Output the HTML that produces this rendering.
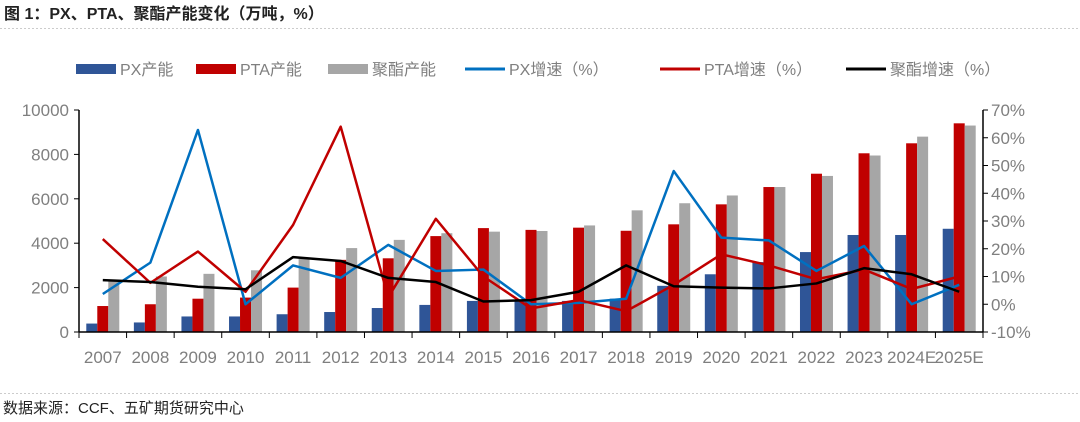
<!DOCTYPE html>
<html><head><meta charset="utf-8"><style>
html,body{margin:0;padding:0;background:#fff;}
svg{display:block;}
text{font-family:"Liberation Sans","Noto Sans CJK SC",sans-serif;}
</style></head><body>
<svg id="chart" width="1080" height="422" xmlns="http://www.w3.org/2000/svg">
<text x="4" y="19" font-size="16" font-weight="bold" fill="#222">图 1：PX、PTA、聚酯产能变化（万吨，%）</text>
<line x1="0" y1="28.5" x2="1080" y2="28.5" stroke="#ccc" stroke-dasharray="2,2"/>
<line x1="0" y1="393.5" x2="1080" y2="393.5" stroke="#ccc" stroke-dasharray="2,2"/>
<text x="3" y="413" font-size="15" fill="#222">数据来源：CCF、五矿期货研究中心</text>
<g id="legend">
<g><rect x="76" y="64" width="40" height="10" fill="#2F5597"/><text x="120" y="75" font-size="16" fill="#7f7f7f">PX产能</text></g>
<g><rect x="196" y="64" width="40" height="10" fill="#C00000"/><text x="240" y="75" font-size="16" fill="#7f7f7f">PTA产能</text></g>
<g><rect x="328" y="64" width="40" height="10" fill="#A6A6A6"/><text x="372" y="75" font-size="16" fill="#7f7f7f">聚酯产能</text></g>
<g><line x1="465" y1="69" x2="505" y2="69" stroke="#0070C0" stroke-width="3"/><text x="509" y="75" font-size="16" fill="#7f7f7f">PX增速（%）</text></g>
<g><line x1="660" y1="69" x2="700" y2="69" stroke="#C00000" stroke-width="3"/><text x="704" y="75" font-size="16" fill="#7f7f7f">PTA增速（%）</text></g>
<g><line x1="846" y1="69" x2="886" y2="69" stroke="#000" stroke-width="3"/><text x="890" y="75" font-size="16" fill="#7f7f7f">聚酯增速（%）</text></g>
</g>
<g id="plot"></g>
</svg>
<script>
const categories=["2007","2008","2009","2010","2011","2012","2013","2014","2015","2016","2017","2018","2019","2020","2021","2022","2023","2024E","2025E"];
const pxCapacity=[380,430,700,700,800,900,1080,1220,1400,1400,1400,1500,2080,2600,3150,3600,4370,4370,4650];
const ptaCapacity=[1170,1250,1500,1550,2000,3250,3320,4320,4680,4600,4700,4560,4850,5750,6530,7130,8050,8500,9400];
const polyCapacity=[2300,2500,2620,2780,3300,3780,4150,4450,4520,4550,4800,5480,5800,6150,6530,7030,7950,8800,9300];
const pxGrowth=[3.7,15,62.8,0,14,9.5,21.4,12,12.5,0,0.5,2,48,24,23,12,21,0,7];
const ptaGrowth=[23.5,7.7,19,4.5,28.6,64,2.5,30.8,10,-1.5,1.5,-2.5,7,18,14,9,12.5,5.5,10];
const polyGrowth=[8.7,8,6.3,5.4,17,15.6,9.5,8,1,1.5,4.5,14,6.5,6,5.7,7.5,13,10.8,4.5];
const leftTicks=[0,2000,4000,6000,8000,10000];
const rightTicks=[-10,0,10,20,30,40,50,60,70];

const NS="http://www.w3.org/2000/svg";
const g=document.getElementById('plot');
const X0=79,X1=983,YT=110,YB=332;
const bw=(X1-X0)/categories.length;
const yL=v=>YB-(v/10000)*(YB-YT);
const yR=v=>YB-((v+10)/80)*(YB-YT);
const xC=i=>X0+bw*(i+0.5);
function mk(tag,attrs){const e=document.createElementNS(NS,tag);for(const k in attrs)e.setAttribute(k,attrs[k]);g.appendChild(e);return e;}

leftTicks.forEach(v=>{
  const t=mk('text',{x:X0-10,y:yL(v)+6,'text-anchor':'end','font-size':'17',fill:'#7f7f7f'});t.textContent=v;
  
  
  const l=mk('line',{x1:X0-5,x2:X0,y1:yL(v),y2:yL(v),stroke:'#000'});
  
  
});
rightTicks.forEach(v=>{
  const t=mk('text',{x:X1+8,y:yR(v)+6,'font-size':'17',fill:'#7f7f7f'});t.textContent=v+'%';
  
  
  const l=mk('line',{x1:X1,x2:X1+5,y1:yR(v),y2:yR(v),stroke:'#000'});
  
  
});
const series=[[pxCapacity,'#2F5597','bar-px'],[ptaCapacity,'#C00000','bar-pta'],[polyCapacity,'#A6A6A6','bar-polyester']];
const barW=11;
categories.forEach((c,i)=>{
  series.forEach((s,k)=>{
    const x=xC(i)-16.5+k*barW;
    const r=mk('rect',{x:x,y:yL(s[0][i]),width:barW,height:YB-yL(s[0][i]),fill:s[1]});
    
    
  });
  const t=mk('text',{x:xC(i),y:YB+31,'text-anchor':'middle','font-size':'17',fill:'#7f7f7f'});t.textContent=c;
  
  
});
for(let i=0;i<=categories.length;i++){
  const l=mk('line',{x1:X0+bw*i,x2:X0+bw*i,y1:YB,y2:YB+6,stroke:'#000'});
  
  
}
const ax=mk('line',{x1:X0,x2:X1,y1:YB,y2:YB,stroke:'#000','stroke-width':'1.5'});


const la=mk('line',{x1:X0,x2:X0,y1:YT,y2:YB,stroke:'#000','stroke-width':'1.5'});


const ra=mk('line',{x1:X1,x2:X1,y1:YT,y2:YB,stroke:'#000','stroke-width':'1.5'});


[[pxGrowth,'#0070C0','line-px-growth'],[ptaGrowth,'#C00000','line-pta-growth'],[polyGrowth,'#000','line-polyester-growth']].forEach(s=>{
  const p=mk('polyline',{points:s[0].map((v,i)=>xC(i)+','+yR(v)).join(' '),fill:'none',stroke:s[1],'stroke-width':'2.5','stroke-linejoin':'round'});
  
  
});
</script>
</body></html>
